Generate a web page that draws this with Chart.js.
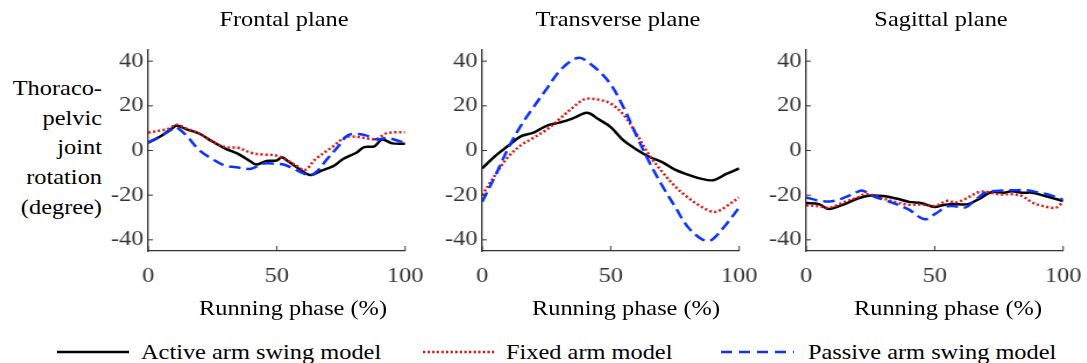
<!DOCTYPE html>
<html>
<head>
<meta charset="utf-8">
<script src="https://cdn.jsdelivr.net/npm/chart.js@4.4.0/dist/chart.umd.min.js"></script>
<style>
  html, body { margin:0; padding:0; background:#fff; overflow:hidden; width:1087px; height:363px; }
  body { position:relative; font-family:"Liberation Serif","Times New Roman",serif; color:#000; }
  .panel { position:absolute; top:0; height:325px; width:293.5px; transform:scaleX(1.16); transform-origin:0 0; }
  .ylab { position:absolute; left:0; top:74px; width:102px; text-align:right; font-size:21px; line-height:29.7px;
          transform:scaleX(1.16); transform-origin:100% 0; }
  .ptitle, .xtitle { position:absolute; width:300px; text-align:center; font-size:21px; line-height:25.2px;
          white-space:nowrap; transform:scaleX(1.16); transform-origin:50% 0; }
  .ptitle { top:7px; }
  .xtitle { top:296px; }
  .leg-line { position:absolute; top:349px; }
  .leg-text { position:absolute; top:339px; font-size:21px; line-height:26px; white-space:nowrap;
              transform:scaleX(1.16); transform-origin:0 0; }
</style>
</head>
<body>

<div class="ylab">Thoraco-<br>pelvic<br>joint<br>rotation<br>(degree)</div>

<div class="panel" style="left:97px"><canvas id="c-frontal"></canvas></div>
<div class="panel" style="left:431px"><canvas id="c-transverse"></canvas></div>
<div class="panel" style="left:755px"><canvas id="c-sagittal"></canvas></div>

<div class="ptitle" style="left:134px">Frontal plane</div>
<div class="ptitle" style="left:468px">Transverse plane</div>
<div class="ptitle" style="left:791px">Sagittal plane</div>

<div class="xtitle" style="left:143px">Running phase (%)</div>
<div class="xtitle" style="left:476px">Running phase (%)</div>
<div class="xtitle" style="left:798px">Running phase (%)</div>

<svg class="leg-line" style="left:57px" width="72" height="6"><line x1="0" y1="3" x2="72" y2="3" stroke="#000" stroke-width="2.5"/></svg>
<div class="leg-text" style="left:141px">Active arm swing model</div>
<svg class="leg-line" style="left:423px" width="71" height="6"><line x1="0" y1="3" x2="71" y2="3" stroke="#e01010" stroke-width="2.5" stroke-dasharray="2.3 2.3"/></svg>
<div class="leg-text" style="left:506px">Fixed arm model</div>
<svg class="leg-line" style="left:721px" width="73" height="6"><line x1="0" y1="3" x2="73" y2="3" stroke="#0a32ff" stroke-width="2.5" stroke-dasharray="11 7"/></svg>
<div class="leg-text" style="left:808px">Passive arm swing model</div>

<script>
/* ---- data ---- */
var X_TICKS = [0, 50, 100];
var Y_TICKS = [-40, -20, 0, 20, 40];

var frontalActiveX  = [0, 5, 10, 11, 15, 20, 25, 30, 35, 40, 42, 46, 50, 52, 55, 59, 63, 67, 72, 76, 81, 84, 88, 91, 95, 100];
var frontalActiveY  = [3.5, 6.5, 10.5, 11.2, 9.5, 7.5, 4, 0.8, -1.5, -5, -6.3, -4.7, -4.5, -3, -5.3, -8.4, -11, -9.2, -7, -3.7, -1, 1.5, 1.9, 4.9, 3.2, 3];
var frontalFixedX   = [0, 5, 8, 11, 15, 20, 25, 30, 35, 40, 45, 50, 55, 58, 61, 65, 72, 77, 82, 86, 89, 93, 100];
var frontalFixedY   = [8, 9, 9.8, 11.5, 9.8, 7.5, 4, 1.5, 1.2, -1, -1.8, -2.3, -5, -7, -8.7, -4, 1.9, 6, 6, 5.3, 5.2, 7.8, 8.2];
var frontalPassiveX = [0, 5, 10, 11, 15, 20, 25, 30, 35, 40, 45, 50, 53, 57, 60, 63, 66, 69, 74, 78, 84, 89, 93, 98, 100];
var frontalPassiveY = [3.5, 6.5, 10, 10.5, 6.5, 0, -3.8, -6.8, -7.6, -8.2, -5.8, -6, -6.4, -8.4, -10, -11.3, -9, -4.7, 1.9, 7, 7, 4.9, 5.6, 4.1, 3.5];

var transActiveX  = [0, 5, 10, 15, 20, 25, 30, 35, 40, 42, 45, 50, 55, 60, 65, 70, 75, 80, 85, 90, 95, 100];
var transActiveY  = [-8, -2.5, 2, 6.3, 8, 11, 12.5, 14.3, 16.8, 16.5, 14.2, 10.5, 4.5, 0.5, -2.8, -5.2, -8.6, -10.8, -12.6, -13.3, -10.5, -8];
var transFixedX   = [0, 5, 10, 15, 20, 25, 30, 35, 40, 45, 50, 55, 60, 65, 70, 75, 80, 85, 90, 93, 95, 100];
var transFixedY   = [-20, -11, -3, 2.3, 5.7, 9.3, 14, 19, 23, 22.8, 21, 16, 7.5, -2, -9.5, -16, -21, -25, -27.5, -26.5, -25, -21];
var transPassiveX = [0, 5, 10, 15, 20, 25, 30, 35, 38, 40, 45, 50, 55, 60, 65, 70, 75, 80, 85, 88, 90, 95, 100];
var transPassiveY = [-23, -11.5, 0.8, 11, 19.5, 27.5, 35.5, 40.5, 41.5, 40.5, 36, 29.6, 19.3, 6.7, -5.2, -15.7, -25.1, -34.2, -39.4, -40.5, -39.5, -33, -25.5];

var sagActiveX  = [0, 5, 8, 10, 15, 20, 25, 30, 35, 40, 45, 50, 53, 57, 63, 68, 72, 77, 80, 84, 88, 93, 100];
var sagActiveY  = [-23.5, -24, -26, -26, -24, -21.5, -20.2, -20.4, -21.5, -23, -23.6, -25.3, -24.5, -24, -24, -21.2, -18.7, -18.9, -18.2, -18.9, -18.9, -20.4, -22.6];
var sagFixedX   = [0, 5, 9, 15, 20, 23, 27, 30, 35, 40, 45, 50, 55, 58, 62, 67, 70, 75, 80, 84, 88, 92, 97, 100];
var sagFixedY   = [-24.5, -25, -25.6, -23, -21, -19.5, -20.3, -21.5, -23.2, -24.3, -24.2, -24.8, -22.5, -23.3, -21.6, -18.7, -18.5, -19.6, -19.6, -20.4, -23.3, -24.8, -25.6, -23];
var sagPassiveX = [0, 5, 10, 15, 20, 22, 26, 30, 35, 40, 46, 50, 55, 58, 62, 66, 70, 75, 80, 86, 90, 95, 100];
var sagPassiveY = [-21, -22.5, -22.7, -21, -18.5, -18, -20.4, -22, -24, -26.5, -30.8, -28.5, -25, -25, -25.5, -22, -18.7, -18, -17.8, -17.8, -18.7, -20, -22];

/* ---- styles ---- */
var AXIS = '#333';
var TICK = '#333';
var BLACK = '#000', RED = '#e01010', BLUE = '#0a32ff';

Chart.defaults.font.family = '"Liberation Serif", "Times New Roman", serif';
Chart.defaults.font.size = 21;

function pts(xs, ys) {
  return xs.map(function(x, i){ return { x: x, y: ys[i] }; });
}

/* small inward tick marks, like the original axes */
var innerTicks = {
  id: 'innerTicks',
  afterDraw: function(chart) {
    var ctx = chart.ctx, a = chart.chartArea;
    var xs = chart.scales.x, ys = chart.scales.y;
    ctx.save();
    ctx.strokeStyle = AXIS; ctx.lineWidth = 1;
    ctx.beginPath();
    Y_TICKS.forEach(function(v){ var p = ys.getPixelForValue(v); ctx.moveTo(a.left, p); ctx.lineTo(a.left + 4, p); });
    X_TICKS.forEach(function(v){ var p = xs.getPixelForValue(v); ctx.moveTo(p, a.bottom); ctx.lineTo(p, a.bottom - 5); });
    ctx.stroke();
    ctx.restore();
  }
};

function makeChart(id, active, fixed, passive) {
  new Chart(document.getElementById(id), {
    type: 'line',
    data: {
      datasets: [
        { label:'Active arm swing model', data: active, borderColor: BLACK, borderWidth: 2.5, order: 3 },
        { label:'Fixed arm model', data: fixed, borderColor: RED, borderWidth: 2.5, borderDash: [2, 2.2], order: 2 },
        { label:'Passive arm swing model', data: passive, borderColor: BLUE, borderWidth: 2.5, borderDash: [10, 5], order: 1 },
      ]
    },
    options: {
      responsive: true, maintainAspectRatio: false, animation: false,
      elements: { point: { radius: 0 }, line: { tension: 0.35, fill: false } },
      layout: { padding: { left: 0, right: 0, top: 50, bottom: 0 } },
      plugins: {
        legend: { display: false },
        tooltip: { enabled: false },
      },
      scales: {
        x: {
          type: 'linear', min: 0, max: 100,
          afterBuildTicks: function(s){ s.ticks = X_TICKS.map(function(v){ return { value: v }; }); },
          afterFit: function(s){ s.height = 74; },
          grid: { display: false, drawTicks: false },
          border: { display: true, color: AXIS, width: 1.3 },
          ticks: { color: TICK, padding: 13, maxRotation: 0 },
        },
        y: {
          min: -45, max: 45,
          afterBuildTicks: function(s){ s.ticks = Y_TICKS.map(function(v){ return { value: v }; }); },
          afterFit: function(s){ s.width = 44; },
          grid: { display: false, drawTicks: false },
          border: { display: true, color: AXIS, width: 1.3 },
          ticks: { color: TICK, padding: 4 },
        },
      },
    },
    plugins: [innerTicks],
  });
}

makeChart('c-frontal',    pts(frontalActiveX, frontalActiveY), pts(frontalFixedX, frontalFixedY), pts(frontalPassiveX, frontalPassiveY));
makeChart('c-transverse', pts(transActiveX, transActiveY),     pts(transFixedX, transFixedY),     pts(transPassiveX, transPassiveY));
makeChart('c-sagittal',   pts(sagActiveX, sagActiveY),         pts(sagFixedX, sagFixedY),         pts(sagPassiveX, sagPassiveY));
</script>
</body>
</html>
